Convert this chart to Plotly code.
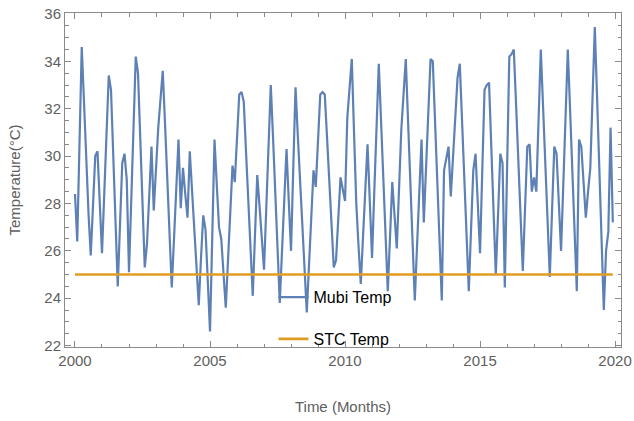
import plotly.graph_objects as go

start_year = 2000
mubi_temp = [
    28.4, 26.4, 30.5, 34.6, 32.3, 29.6, 27.6, 25.8, 27.9, 30.0, 30.2, 28.0,
    25.9, 28.4, 31.0, 33.4, 32.8, 29.8, 27.2, 24.5, 27.1, 29.7, 30.1, 29.0,
    25.1, 28.2, 31.3, 34.2, 33.5, 30.8, 28.0, 25.3, 26.3, 28.5, 30.4, 27.7,
    29.6, 31.2, 32.4, 33.6, 31.4, 29.1, 26.8, 24.45, 26.5, 28.6, 30.7, 27.8,
    29.5, 28.4, 27.4, 30.2, 28.6, 26.9, 25.3, 23.7, 25.7, 27.5, 26.9, 24.7,
    22.6, 26.6, 30.7, 28.8, 27.0, 26.5, 25.0, 23.6, 25.6, 27.6, 29.6, 28.9,
    30.8, 32.6, 32.7, 32.3, 30.2, 28.1, 26.1, 24.1, 26.7, 29.2, 27.9, 26.5,
    25.2, 27.8, 30.4, 33.0, 30.8, 28.4, 26.1, 23.8, 26.0, 28.2, 30.3, 28.1,
    26.0, 29.5, 32.9, 30.9, 28.9, 27.0, 25.2, 23.4, 25.4, 27.4, 29.4, 28.7,
    30.7, 32.6, 32.7, 32.6, 30.8, 28.9, 27.1, 25.3, 25.6, 27.4, 29.1, 28.6,
    28.1, 31.6, 32.8, 34.1, 31.0, 28.0, 26.2, 24.6, 26.6, 28.6, 30.5, 28.1,
    25.7, 28.5, 31.2, 33.9, 31.5, 29.0, 26.6, 24.3, 26.6, 28.9, 27.5, 26.1,
    28.6, 31.1, 32.6, 34.1, 31.5, 28.9, 26.4, 23.9, 26.2, 28.4, 30.7, 27.2,
    29.6, 31.9, 34.1, 34.0, 31.4, 28.9, 26.4, 23.9, 29.4, 29.9, 30.4, 28.3,
    30.0, 31.7, 33.3, 33.9, 31.5, 29.1, 26.7, 24.3, 26.9, 29.4, 30.1, 28.0,
    25.9, 29.4, 32.8, 33.0, 33.1, 30.4, 27.7, 25.0, 27.5, 30.1, 29.7, 24.45,
    29.4, 34.2, 34.3, 34.5, 32.2, 29.8, 27.5, 25.15, 27.8, 30.4, 30.5, 28.5,
    29.1, 28.5, 31.5, 34.5, 32.1, 29.7, 27.3, 24.9, 27.7, 30.4, 30.1, 28.0,
    26.0, 28.8, 31.7, 34.5, 32.0, 29.4, 26.9, 24.3, 30.7, 30.4, 28.9, 27.4,
    28.5, 29.5, 32.5, 35.45, 32.5, 29.5, 26.5, 23.5, 26.0, 26.8, 31.2, 27.2,
]
stc_value = 25.0
x_ticks = [2000, 2005, 2010, 2015, 2020]
y_ticks = [22, 24, 26, 28, 30, 32, 34, 36]

months = [start_year + i / 12 for i in range(len(mubi_temp))]
stc_temp = [stc_value] * len(mubi_temp)

BLUE = "#5E81B5"
ORANGE = "#E19C24"
FRAME = "#8a8a8a"
TXT = "#606060"
FONT = "Liberation Sans, Arial, sans-serif"

fig = go.Figure()
fig.add_trace(go.Scatter(x=months, y=mubi_temp, mode="lines", name="Mubi Temp",
                         legendgroup="a",
                         line=dict(color=BLUE, width=2.2)))
fig.add_trace(go.Scatter(x=months, y=stc_temp, mode="lines", name="STC Temp",
                         legendgroup="b",
                         line=dict(color=ORANGE, width=2.6)))

axis_common = dict(
    showline=True, linecolor=FRAME, linewidth=1, mirror="allticks",
    ticks="inside", tickcolor=FRAME, ticklen=6, tickwidth=1,
    showgrid=False, zeroline=False,
    tickfont=dict(family=FONT, size=15, color=TXT),
)

fig.update_layout(
    width=634, height=421,
    margin=dict(l=65, r=13, t=13, b=74, autoexpand=False),
    plot_bgcolor="white", paper_bgcolor="white",
    font=dict(family=FONT),
    showlegend=True,
    legend=dict(x=0.375, y=0.2, xanchor="left", yanchor="top",
                bgcolor="rgba(0,0,0,0)", traceorder="grouped",
                tracegroupgap=18,
                font=dict(family=FONT, size=16, color="black")),
    xaxis=dict(
        **axis_common,
        range=[1999.63, 2020.22],
        tickvals=x_ticks, ticktext=[str(v) for v in x_ticks],
        minor=dict(dtick=1, tick0=2000, ticks="inside", ticklen=3.5,
                   tickcolor=FRAME, showgrid=False),
        title=dict(text="Time (Months)", font=dict(family=FONT, size=15, color=TXT),
                   standoff=33),
    ),
    yaxis=dict(
        **axis_common,
        range=[21.94, 36.04],
        tickvals=y_ticks, ticktext=[str(v) for v in y_ticks],
        minor=dict(dtick=0.5, tick0=22, ticks="inside", ticklen=3.5,
                   tickcolor=FRAME, showgrid=False),
        title=dict(text="Temperature(°C)", font=dict(family=FONT, size=15, color=TXT),
                   standoff=20),
    ),
)

fig.write_html("out.html")
